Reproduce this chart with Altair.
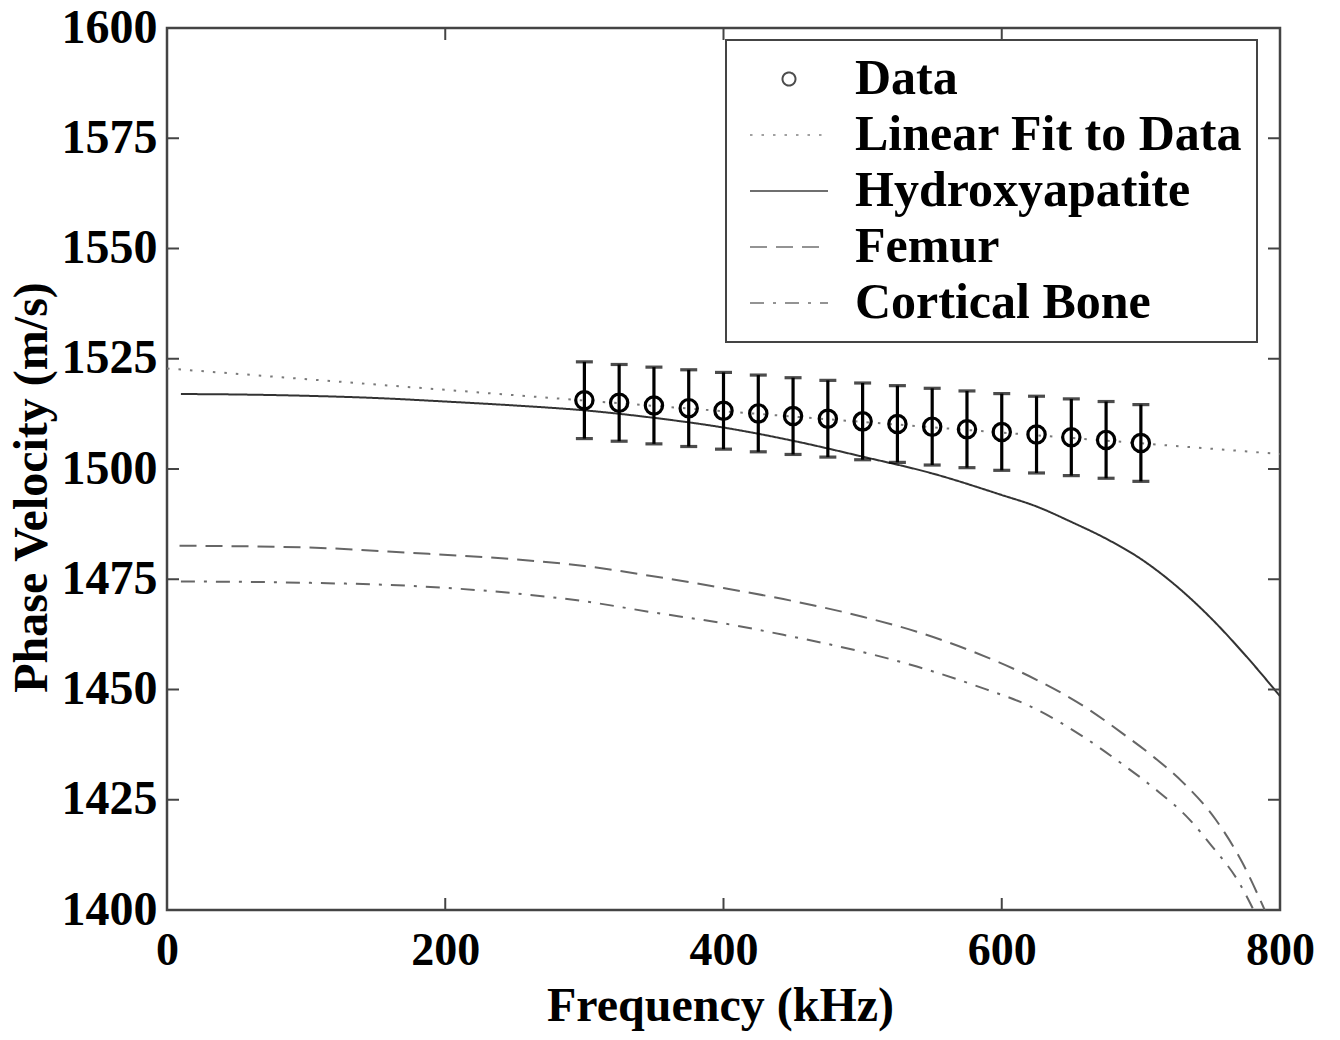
import altair as alt
import pandas as pd

FONT = "Liberation Serif"

# ---- data ----
series = ["Data", "Linear Fit to Data", "Hydroxyapatite", "Femur", "Cortical Bone"]

data_f = [300, 325, 350, 375, 400, 425, 450, 475, 500, 525, 550, 575, 600, 625, 650, 675, 700]
data_v = [1515.6, 1515.0, 1514.4, 1513.8, 1513.2, 1512.6, 1512.0, 1511.4, 1510.8,
          1510.2, 1509.6, 1509.0, 1508.4, 1507.8, 1507.2, 1506.6, 1505.9]
data_err = 8.7

fit_f = [0, 800]
fit_v = [1522.8, 1503.4]

hyd_f = [10, 50, 100, 150, 200, 250, 300, 350, 400, 450, 500, 550, 600, 625, 650, 675, 700, 725, 750, 775, 800]
hyd_v = [1517.0, 1516.9, 1516.6, 1516.1, 1515.3, 1514.4, 1513.3, 1511.6, 1509.4, 1506.4,
         1502.8, 1499.0, 1494.1, 1491.5, 1488.0, 1484.2, 1479.6, 1473.6, 1466.3, 1457.8, 1448.5]

fem_f = [9, 100, 175, 250, 300, 347, 400, 443, 500, 539, 580, 625, 660, 687, 710, 730, 754, 773, 789]
fem_v = [1482.6, 1482.2, 1481.0, 1479.5, 1478.0, 1475.8, 1473.0, 1470.5, 1466.5, 1463.1,
         1458.5, 1452.2, 1446.0, 1440.0, 1434.5, 1429.0, 1420.4, 1410.7, 1400.0]

cort_f = [10, 100, 175, 250, 300, 347, 400, 443, 500, 539, 580, 625, 660, 687, 710, 735, 751, 771, 781]
cort_v = [1474.5, 1474.2, 1473.5, 1471.8, 1470.0, 1467.6, 1465.0, 1462.4, 1458.5, 1455.2,
          1451.0, 1445.5, 1439.0, 1433.0, 1427.5, 1420.5, 1414.5, 1406.0, 1400.0]

x_ticks = [0, 200, 400, 600, 800]
y_ticks = [1400, 1425, 1450, 1475, 1500, 1525, 1550, 1575, 1600]

# ---- tables ----
rows = []
for name, fs, vs in [("Linear Fit to Data", fit_f, fit_v),
                     ("Hydroxyapatite", hyd_f, hyd_v),
                     ("Femur", fem_f, fem_v),
                     ("Cortical Bone", cort_f, cort_v)]:
    for f, v in zip(fs, vs):
        rows.append({"series": name, "f": f, "v": v})
lines_df = pd.DataFrame(rows)

pts_df = pd.DataFrame({"f": data_f, "v": data_v})
pts_df["lo"] = pts_df["v"] - data_err
pts_df["hi"] = pts_df["v"] + data_err

leg_df = pd.DataFrame({"series": series})
xt_df = pd.DataFrame({"xt": x_ticks})
yt_df = pd.DataFrame({"yt": y_ticks})

W, H = 1113, 882
TICK = 12

xscale = alt.Scale(domain=[0, 800], nice=False, zero=False)
yscale = alt.Scale(domain=[1400, 1600], nice=False, zero=False)

stroke_scale = alt.Scale(domain=series,
                         range=["#000000", "#7a7a7a", "#333333", "#666666", "#666666"])
dash_scale = alt.Scale(domain=series,
                       range=[[1, 0], [2.5, 9], [1, 0], [17, 9], [14, 9, 3, 9]])
shape_scale = alt.Scale(domain=series,
                        range=["circle", "M-6,0H6", "M-6,0H6", "M-6,0H6", "M-6,0H6"])

xaxis = alt.Axis(values=x_ticks, title="Frequency (kHz)", grid=False, ticks=False, domain=False,
                 format="d",
                 labelFont=FONT, labelFontSize=46, labelFontWeight="bold", labelColor="black",
                 labelPadding=18, labelFlush=False,
                 titleFont=FONT, titleFontSize=48, titleFontWeight="bold", titleColor="black",
                 titleX=553, titleY=110, titleBaseline="alphabetic", titleAlign="center")
yaxis = alt.Axis(values=y_ticks, title="Phase Velocity (m/s)", grid=False, ticks=False, domain=False,
                 format="d",
                 labelFont=FONT, labelFontSize=48, labelFontWeight="bold", labelColor="black",
                 labelPadding=10, labelFlush=False,
                 titleFont=FONT, titleFontSize=48, titleFontWeight="bold", titleColor="black",
                 titleX=-121, titleY=459, titleAngle=270, titleBaseline="alphabetic", titleAlign="center")


def X(field):
    return alt.X(field, type="quantitative", scale=xscale, axis=xaxis)


def Y(field):
    return alt.Y(field, type="quantitative", scale=yscale, axis=yaxis)


legend_def = alt.Legend(title=None, orient="none", legendX=559, legendY=12,
                        labelFont=FONT, labelFontSize=50, labelFontWeight="bold",
                        labelColor="black", labelLimit=600, labelOffset=41,
                        symbolOffset=24, symbolSize=169, symbolStrokeWidth=2,
                        padding=14, rowPadding=6, strokeColor="#444",
                        fillColor="white", cornerRadius=0)

lines = alt.Chart(lines_df).mark_line(strokeWidth=2, clip=True, interpolate="monotone").encode(
    x=X("f"),
    y=Y("v"),
    stroke=alt.Stroke("series:N", scale=stroke_scale, legend=legend_def),
    strokeDash=alt.StrokeDash("series:N", scale=dash_scale, legend=legend_def),
)

legend_layer = alt.Chart(leg_df).transform_filter(
    alt.datum.series == "__none__"
).mark_point(filled=False, size=169, strokeWidth=2).encode(
    shape=alt.Shape("series:N", scale=shape_scale, legend=legend_def),
    stroke=alt.Stroke("series:N", scale=stroke_scale, legend=legend_def),
    strokeDash=alt.StrokeDash("series:N", scale=dash_scale, legend=legend_def),
)

ebars = alt.Chart(pts_df).mark_rule(strokeWidth=3.2, color="black", clip=True).encode(
    x=X("f"), y=Y("lo"), y2="hi:Q",
)
caps_lo = alt.Chart(pts_df).mark_tick(orient="horizontal", size=17, thickness=3.2,
                                      color="black", clip=True).encode(x=X("f"), y=Y("lo"))
caps_hi = alt.Chart(pts_df).mark_tick(orient="horizontal", size=17, thickness=3.2,
                                      color="black", clip=True).encode(x=X("f"), y=Y("hi"))
points = alt.Chart(pts_df).mark_point(shape="circle", size=300, strokeWidth=3.2,
                                      filled=False, color="black", opacity=1, clip=True).encode(
    x=X("f"), y=Y("v"),
)

tcol = "#444"
tick_left = alt.Chart(yt_df).mark_rule(color=tcol, strokeWidth=2).encode(
    y=Y("yt"), x=alt.value(0), x2=alt.value(TICK))
tick_right = alt.Chart(yt_df).mark_rule(color=tcol, strokeWidth=2).encode(
    y=Y("yt"), x=alt.value(W - TICK), x2=alt.value(W))
tick_bottom = alt.Chart(xt_df).mark_rule(color=tcol, strokeWidth=2).encode(
    x=X("xt"), y=alt.value(H - TICK), y2=alt.value(H))
tick_top = alt.Chart(xt_df).mark_rule(color=tcol, strokeWidth=2).encode(
    x=X("xt"), y=alt.value(0), y2=alt.value(TICK))

chart = alt.layer(
    lines, legend_layer, ebars, caps_lo, caps_hi, points,
    tick_left, tick_right, tick_bottom, tick_top
).properties(
    width=W, height=H,
    autosize=alt.AutoSizeParams(type="none"),
    padding={"left": 159, "top": 20, "right": 52, "bottom": 122},
    background="white",
).configure_view(
    stroke="#444", strokeWidth=2.5
).configure_legend(
    strokeWidth=2
)

chart.save("out.html", embed_options={"renderer": "svg", "actions": False})
